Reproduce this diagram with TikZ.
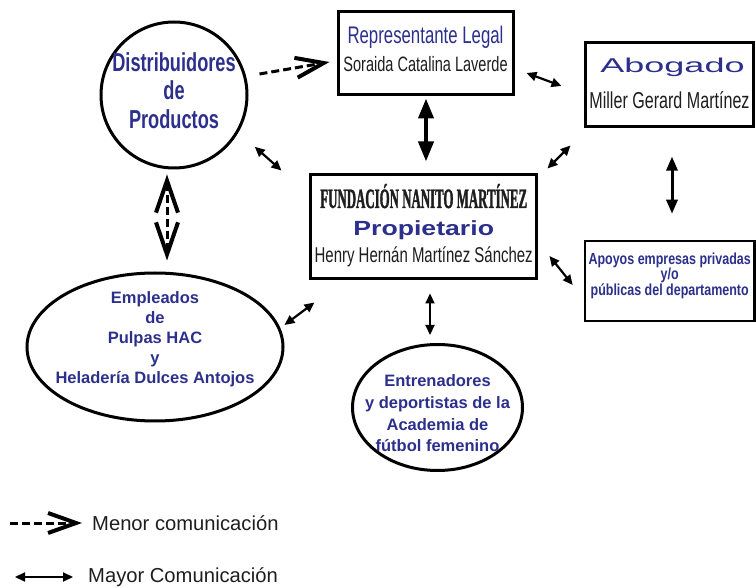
\documentclass[tikz,border=0pt]{standalone}
\usepackage{fontspec}
\setmainfont{Liberation Sans}
\newfontfamily\fName[FakeStretch=0.70]{Liberation Sans}
\newfontfamily\fApo[FakeStretch=0.78]{Liberation Sans}
\newfontfamily\fWide[FakeStretch=1.8]{Liberation Sans}
\newfontfamily\fProp[FakeStretch=1.3]{Liberation Sans}
\newfontfamily\fFund[FakeStretch=0.46,FakeBold=1.2]{Liberation Serif}
\usetikzlibrary{arrows.meta,shapes.geometric}
\definecolor{tblue}{RGB}{44,48,140}
\definecolor{tdark}{RGB}{30,30,30}
\newcommand\fsz[1]{\fontsize{#1}{#1}\selectfont}
\newcommand\stk[3]{\raisebox{#1}[0pt][0pt]{\makebox[0pt]{\vtop{\baselineskip=#2\lineskiplimit=-\maxdimen\lineskip=0pt\halign{\hfil\bgroup##\egroup\hfil\cr#3\crcr}}}}}
\tikzset{
  boxn/.style={draw, rectangle, line width=3pt, inner sep=0pt},
  circn/.style={draw, circle, line width=3pt, inner sep=0pt},
  elln/.style={draw, ellipse, line width=3pt, inner sep=0pt},
  dblA/.style={line width=2.2pt, {Triangle[length=10pt,width=9pt]}-{Triangle[length=10pt,width=9pt]}},
  dblB/.style={line width=3pt, {Triangle[length=14pt,width=11pt]}-{Triangle[length=14pt,width=11pt]}},
  dblC/.style={line width=4pt, {Triangle[length=20pt,width=15pt]}-{Triangle[length=20pt,width=15pt]}},
  dashA/.style={line width=3pt, dash pattern=on 8pt off 4pt, -{Straight Barb[length=28pt,width=20pt,line width=4pt]}},
  dashB/.style={line width=3pt, dash pattern=on 8pt off 4pt, {Straight Barb[length=32pt,width=22pt,line width=4pt]}-{Straight Barb[length=32pt,width=22pt,line width=4pt]}}
}
\begin{document}
\begin{tikzpicture}[x=1pt,y=-1pt]
\useasboundingbox (0,0) rectangle (756,588);
\fill[white] (0,0) rectangle (756,588);

\node[circn, minimum size=146pt] (dist) at (174,95)
  {\fName\bfseries\fsz{26}\color{tblue}\stk{23.3pt}{28.3pt}{Distribuidores\cr de\cr Productos}};

\node[boxn, minimum width=175pt, minimum height=83pt] (rep) at (425.5,53)
  {\fName\stk{9.7pt}{28.4pt}{\fsz{24}\color{tblue}Representante Legal\cr \fsz{20.8}\color{tdark}Soraida Catalina Laverde}};

\node[boxn, minimum width=168pt, minimum height=84.5pt] (abo) at (669.5,84.3)
  {\stk{11.6pt}{35.5pt}{\hspace*{6pt}\fWide\fsz{20}\color{tblue}Abogado\cr \fName\fsz{23}\color{tdark}Miller Gerard Martínez}};

\node[boxn, minimum width=225.5pt, minimum height=104pt] (fund) at (423.7,226.3)
  {\stk{18.3pt}{27.5pt}{\fFund\bfseries\fsz{28}\color{tdark}FUNDACIÓN NANITO MARTÍNEZ\cr
   \fProp\bfseries\fsz{20.5}\color{tblue}Propietario\cr
   \fName\fsz{21.4}\color{tdark}Henry Hernán Martínez Sánchez}};

\node[boxn, line width=2.5pt, minimum width=169.5pt, minimum height=80pt] (apo) at (669.7,281)
  {\fApo\bfseries\fsz{16}\color{tblue}\stk{16.5pt}{15.5pt}{Apoyos empresas privadas\cr y/o\cr públicas del departamento}};

\node[elln, minimum width=256pt, minimum height=148pt] (emp) at (155,347)
  {\bfseries\fsz{16.5}\color{tblue}\stk{43.7pt}{20pt}{Empleados\cr de\cr Pulpas HAC\cr y\cr Heladería Dulces Antojos}};

\node[elln, minimum width=170pt, minimum height=126pt] (ent) at (437.5,407.5)
  {\bfseries\fsz{16.5}\color{tblue}\stk{20.8pt}{21.7pt}{Entrenadores\cr y deportistas de la\cr Academia de\cr fútbol femenino}};

% connectors
\draw[dashA] ([xshift=11pt,yshift=21pt]dist.east) -- ([xshift=-7pt,yshift=-9pt]rep.west);
\draw[dblC] ([xshift=0.5pt,yshift=-2.5pt]rep.south) -- ([xshift=2.3pt,yshift=11.3pt]fund.north);
\draw[dblA] ([xshift=12pt,yshift=-20pt]rep.east) -- ([xshift=-22.5pt,yshift=-1.7pt]abo.west);
\draw[dblA] ([xshift=28.1pt,yshift=0.9pt]dist.south east) -- ([xshift=-28pt,yshift=2.3pt]fund.north west);
\draw[dblA] ([xshift=-13.5pt,yshift=-17.5pt]abo.south west) -- ([xshift=9.5pt,yshift=4.3pt]fund.north east);
\draw[dblB] ([xshift=2.5pt,yshift=-28.5pt]abo.south) -- ([xshift=2.3pt,yshift=26pt]apo.north);
\draw[dblA] ([xshift=11.5pt,yshift=-29.7pt]fund.east) -- ([xshift=-11pt,yshift=-4pt]apo.west);
\draw[dblA] ([yshift=22pt]emp.east) -- ([xshift=5pt,yshift=-22.7pt]fund.south west);
\draw[dblA] ([xshift=6.3pt,yshift=-13.7pt]fund.south) -- ([xshift=-7.5pt,yshift=8pt]ent.north);
\draw[dashB] ([xshift=-7pt,yshift=-5pt]dist.south) -- ([xshift=12pt,yshift=11pt]emp.north);

% legend
\node[anchor=base west, inner sep=0pt, text=tdark, font=\fsz{20.2}] (menor) at (92,530) {Menor comunicación};
\node[anchor=base west, inner sep=0pt, text=tdark, font=\fsz{20.2}] (mayor) at (88,582.5) {Mayor Comunicación};
\coordinate (l1) at (10,523);
\coordinate (l2) at (15,577);
\draw[dashA, shorten >=10pt] (l1) -- (l1 -| menor.west);
\draw[dblA, shorten >=15pt] (l2) -- (l2 -| mayor.west);
\end{tikzpicture}
\end{document}
